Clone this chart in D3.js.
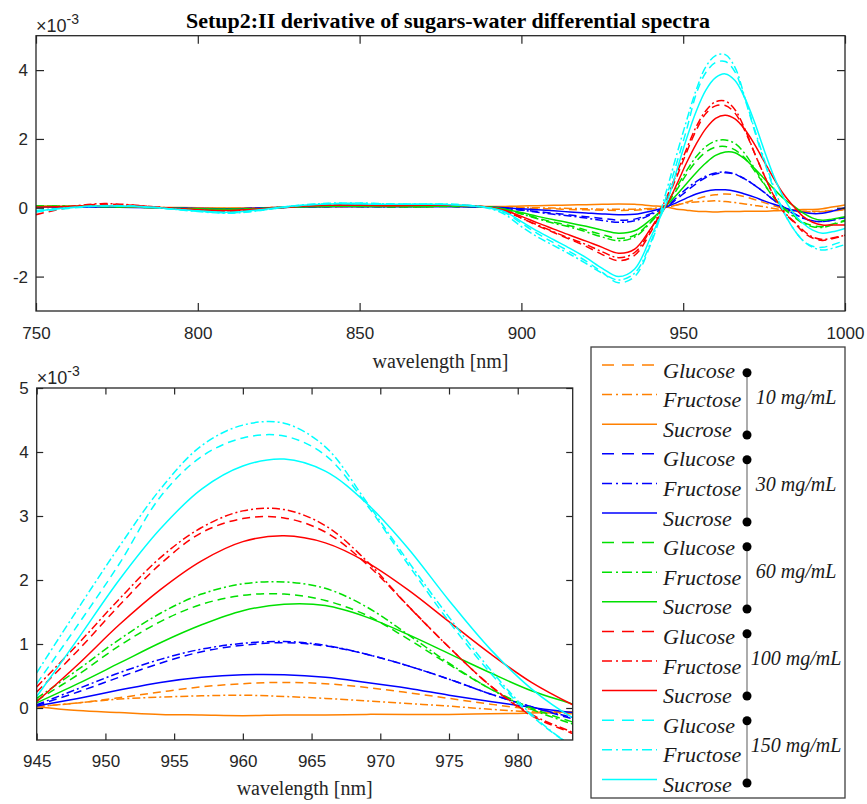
<!DOCTYPE html>
<html>
<head>
<meta charset="utf-8">
<script src="https://cdn.jsdelivr.net/npm/d3@7"></script>
<style>
  body { margin: 0; background: #fff; }
</style>
</head>
<body>
<script>
// wavelength grid [nm]
var wavelength = [750,760,770,780,790,800,810,820,830,840,850,860,870,880,
  890,895,900,905,910,915,920,925,930,935,940,
  945,948,951,954,957,960,963,966,969,972,975,978,981,984,987,990,993,996,1000];

// II derivative values, x 1e-3
var glucose10 = [0.05,0.04,0.03,0.02,0.0,-0.01,-0.02,0.0,0.02,0.03,0.04,0.04,0.04,0.04,
  0.03,0.02,0.0,-0.02,-0.03,-0.05,-0.06,-0.07,-0.08,-0.07,-0.04,
  0.02,0.08,0.16,0.25,0.33,0.38,0.4,0.38,0.32,0.24,0.15,0.06,-0.02,-0.08,-0.1,-0.1,-0.1,-0.08,-0.05];
var fructose10 = [0.04,0.04,0.03,0.02,0.0,-0.01,-0.02,0.0,0.02,0.03,0.03,0.04,0.04,0.04,
  0.03,0.02,0.01,0.0,-0.01,-0.02,-0.03,-0.04,-0.04,-0.04,-0.02,
  0.02,0.08,0.14,0.17,0.19,0.2,0.18,0.15,0.11,0.07,0.03,-0.02,-0.06,-0.09,-0.11,-0.12,-0.11,-0.09,-0.06];
var sucrose10 = [0.05,0.04,0.03,0.02,0.01,0.0,-0.01,0.0,0.02,0.04,0.05,0.05,0.05,0.04,
  0.04,0.04,0.05,0.06,0.07,0.08,0.09,0.1,0.11,0.1,0.06,
  0.02,-0.04,-0.07,-0.1,-0.11,-0.12,-0.11,-0.11,-0.1,-0.1,-0.1,-0.09,-0.08,-0.06,-0.05,-0.05,-0.03,0.02,0.08];

var glucose30 = [0.03,0.03,0.03,0.02,0.0,-0.03,-0.04,-0.01,0.02,0.04,0.04,0.03,0.04,0.04,
  0.01,-0.02,-0.06,-0.11,-0.16,-0.21,-0.26,-0.31,-0.36,-0.33,-0.17,
  0.04,0.25,0.48,0.7,0.88,0.98,1.02,0.97,0.84,0.66,0.45,0.22,0.02,-0.17,-0.3,-0.38,-0.4,-0.36,-0.28];
var fructose30 = [0.03,0.03,0.03,0.02,0.0,-0.03,-0.04,-0.01,0.02,0.04,0.04,0.03,0.04,0.04,
  0.01,-0.02,-0.07,-0.13,-0.19,-0.24,-0.3,-0.37,-0.42,-0.38,-0.2,
  0.05,0.3,0.55,0.76,0.92,1.01,1.04,0.98,0.84,0.66,0.45,0.22,0.02,-0.15,-0.3,-0.38,-0.4,-0.36,-0.28];
var sucrose30 = [0.02,0.02,0.02,0.01,0.0,-0.02,-0.03,-0.01,0.02,0.03,0.03,0.03,0.03,0.03,
  0.02,0.0,-0.03,-0.06,-0.09,-0.12,-0.15,-0.18,-0.2,-0.19,-0.1,
  0.03,0.15,0.28,0.4,0.48,0.52,0.52,0.48,0.4,0.31,0.2,0.1,0.01,-0.07,-0.13,-0.17,-0.16,-0.1,0.0];

var glucose60 = [0.05,0.04,0.04,0.02,-0.01,-0.04,-0.05,-0.02,0.03,0.05,0.05,0.03,0.03,0.04,
  0.02,-0.05,-0.17,-0.3,-0.42,-0.52,-0.65,-0.78,-0.89,-0.8,-0.4,
  0.12,0.52,0.97,1.35,1.62,1.76,1.78,1.68,1.45,1.08,0.68,0.3,0.0,-0.22,-0.42,-0.52,-0.55,-0.48,-0.36];
var fructose60 = [0.05,0.04,0.04,0.02,-0.01,-0.04,-0.05,-0.02,0.03,0.05,0.05,0.04,0.04,0.05,
  0.02,-0.05,-0.18,-0.32,-0.45,-0.56,-0.7,-0.85,-0.96,-0.85,-0.42,
  0.15,0.6,1.07,1.48,1.78,1.94,1.97,1.87,1.58,1.15,0.7,0.3,-0.02,-0.25,-0.45,-0.55,-0.57,-0.5,-0.38];
var sucrose60 = [0.04,0.04,0.04,0.02,-0.01,-0.03,-0.04,-0.02,0.02,0.04,0.04,0.04,0.04,0.05,
  0.02,-0.04,-0.14,-0.25,-0.35,-0.44,-0.54,-0.65,-0.74,-0.67,-0.34,
  0.08,0.38,0.7,1.02,1.3,1.52,1.62,1.6,1.42,1.15,0.85,0.55,0.27,0.06,-0.15,-0.3,-0.36,-0.33,-0.26];

var glucose100 = [-0.2,0.0,0.1,0.07,0.0,-0.07,-0.1,-0.04,0.04,0.09,0.09,0.07,0.08,0.08,
  0.01,-0.1,-0.3,-0.52,-0.72,-0.92,-1.12,-1.36,-1.54,-1.38,-0.7,
  0.25,0.9,1.6,2.25,2.74,2.96,2.97,2.75,2.25,1.6,0.95,0.35,-0.12,-0.4,-0.7,-0.88,-0.95,-0.9,-0.8];
var fructose100 = [-0.1,0.03,0.12,0.08,0.0,-0.06,-0.09,-0.03,0.04,0.08,0.08,0.07,0.08,0.07,
  0.01,-0.1,-0.3,-0.5,-0.7,-0.89,-1.07,-1.28,-1.45,-1.3,-0.62,
  0.33,1.0,1.7,2.35,2.82,3.08,3.1,2.85,2.3,1.6,0.95,0.35,-0.1,-0.38,-0.65,-0.85,-0.92,-0.88,-0.8];
var sucrose100 = [0.02,0.04,0.05,0.03,-0.01,-0.06,-0.08,-0.03,0.03,0.07,0.07,0.06,0.07,0.07,
  0.01,-0.08,-0.25,-0.44,-0.62,-0.8,-0.97,-1.15,-1.32,-1.2,-0.6,
  0.1,0.68,1.3,1.85,2.3,2.6,2.69,2.58,2.28,1.85,1.35,0.85,0.4,0.05,-0.25,-0.42,-0.5,-0.5,-0.5];

var glucose150 = [-0.12,-0.02,0.05,0.05,-0.02,-0.1,-0.15,-0.07,0.05,0.12,0.13,0.11,0.1,0.09,
  0.0,-0.15,-0.45,-0.75,-1.02,-1.28,-1.55,-1.88,-2.18,-2.0,-1.05,
  0.38,1.3,2.25,3.3,3.93,4.22,4.25,3.95,3.18,2.25,1.35,0.55,-0.12,-0.6,-0.95,-1.12,-1.15,-1.08,-0.95];
var fructose150 = [-0.08,0.0,0.06,0.05,-0.02,-0.11,-0.16,-0.07,0.06,0.13,0.14,0.11,0.11,0.1,
  -0.02,-0.2,-0.55,-0.85,-1.1,-1.35,-1.62,-1.9,-2.1,-1.9,-1.0,
  0.55,1.55,2.52,3.42,4.1,4.42,4.45,4.08,3.22,2.3,1.42,0.6,-0.1,-0.6,-0.95,-1.15,-1.23,-1.18,-1.07];
var sucrose150 = [-0.1,0.0,0.05,0.04,-0.02,-0.09,-0.13,-0.05,0.06,0.11,0.11,0.1,0.1,0.08,
  0.0,-0.12,-0.4,-0.68,-0.93,-1.18,-1.45,-1.76,-2.0,-1.78,-0.85,
  0.18,1.08,2.0,2.8,3.42,3.78,3.89,3.7,3.2,2.5,1.68,0.92,0.3,-0.15,-0.45,-0.65,-0.74,-0.7,-0.6];

var sugars = ["Glucose", "Fructose", "Sucrose"];
var concentrations = ["10 mg/mL", "30 mg/mL", "60 mg/mL", "100 mg/mL", "150 mg/mL"];
var groupColors = ["#ff8000", "#0000ff", "#00e000", "#ff0000", "#00ffff"];
var seriesValues = [glucose10, fructose10, sucrose10, glucose30, fructose30, sucrose30,
  glucose60, fructose60, sucrose60, glucose100, fructose100, sucrose100,
  glucose150, fructose150, sucrose150];

var topXTicks = [750, 800, 850, 900, 950, 1000];
var topYTicks = [-2, 0, 2, 4];
var botXTicks = [945, 950, 955, 960, 965, 970, 975, 980];
var botYTicks = [0, 1, 2, 3, 4, 5];

var dashPlot = {Glucose: "8,5", Fructose: "8,3,2,3", Sucrose: null};
var dashLegend = {Glucose: "12,8", Fructose: "10,4,2,4", Sucrose: null};

// series table
var series = seriesValues.map(function(vals, i) {
  return {
    sugar: sugars[i % 3],
    group: Math.floor(i / 3),
    color: groupColors[Math.floor(i / 3)],
    points: wavelength.map(function(w, j) { return {w: w, v: vals[j]}; })
  };
});

var W = 867, H = 804;
var svg = d3.select("body").append("svg")
  .attr("width", W).attr("height", H)
  .style("font-family", "'Liberation Sans', Arial, sans-serif");

var sansTick = "'Liberation Sans', Arial, sans-serif";
var serif = "'Liberation Serif', 'Times New Roman', serif";
var axisColor = "#262626";
var fmt = d3.format("d");

function drawPanel(opts) {
  var x = d3.scaleLinear().domain(opts.xDomain).range([opts.left, opts.right]);
  var y = d3.scaleLinear().domain(opts.yDomain).range([opts.bottom, opts.top]);
  var g = svg.append("g");

  g.append("clipPath").attr("id", opts.id)
    .append("rect")
    .attr("x", opts.left).attr("y", opts.top)
    .attr("width", opts.right - opts.left).attr("height", opts.bottom - opts.top);

  var line = d3.line()
    .x(function(d) { return x(d.w); })
    .y(function(d) { return y(d.v); })
    .curve(d3.curveCatmullRom.alpha(0.5));

  var lines = g.append("g").attr("clip-path", "url(#" + opts.id + ")");
  series.forEach(function(s) {
    var pts = s.points.filter(function(p) { return p.w >= opts.xDomain[0] - 3 && p.w <= opts.xDomain[1] + 3; });
    lines.append("path")
      .datum(pts)
      .attr("d", line)
      .attr("fill", "none")
      .attr("stroke", s.color)
      .attr("stroke-width", 1.5)
      .attr("stroke-dasharray", dashPlot[s.sugar]);
  });

  var tl = opts.tickLen;
  var xb = g.append("g").attr("transform", "translate(0," + opts.bottom + ")")
    .call(d3.axisBottom(x).tickValues(opts.xTicks).tickFormat(fmt)
      .tickSizeInner(-tl).tickSizeOuter(0).tickPadding(0));
  xb.selectAll("text").attr("dy", null).attr("y", opts.xLabelGap);
  var xt = g.append("g").attr("transform", "translate(0," + opts.top + ")")
    .call(d3.axisTop(x).tickValues(opts.xTicks).tickSizeInner(-tl).tickSizeOuter(0).tickFormat(""));
  var yl = g.append("g").attr("transform", "translate(" + opts.left + ",0)")
    .call(d3.axisLeft(y).tickValues(opts.yTicks).tickFormat(fmt)
      .tickSizeInner(-tl).tickSizeOuter(0).tickPadding(8));
  var yr = g.append("g").attr("transform", "translate(" + opts.right + ",0)")
    .call(d3.axisRight(y).tickValues(opts.yTicks).tickSizeInner(-tl).tickSizeOuter(0).tickFormat(""));

  [xb, xt, yl, yr].forEach(function(a) {
    a.select(".domain").remove();
    a.selectAll("line").attr("stroke", axisColor).attr("stroke-width", 1.2);
    a.selectAll("text").attr("fill", axisColor)
      .style("font-family", sansTick).style("font-size", "17px");
  });
  // plain hyphen for negative ticks, like the original
  yl.selectAll("text").text(function(d) { return String(d); });

  g.append("rect")
    .attr("x", opts.left).attr("y", opts.top)
    .attr("width", opts.right - opts.left).attr("height", opts.bottom - opts.top)
    .attr("fill", "none").attr("stroke", axisColor).attr("stroke-width", 1.3);

  // exponent
  var ex = g.append("text")
    .attr("x", opts.left).attr("y", opts.top - 4)
    .attr("fill", axisColor)
    .style("font-family", sansTick).style("font-size", "18px");
  ex.append("tspan").text("\u00d710");
  ex.append("tspan").attr("dy", -8).style("font-size", "14px").text("-3");

  g.append("text")
    .attr("x", (opts.left + opts.right) / 2).attr("y", opts.xTitleY)
    .attr("text-anchor", "middle")
    .attr("fill", axisColor)
    .style("font-family", serif).style("font-size", "20px")
    .text("wavelength [nm]");
}

drawPanel({
  id: "clipTop", left: 36, right: 845, top: 35.7, bottom: 311,
  xDomain: [750, 1000], yDomain: [-3, 5], xTicks: topXTicks, yTicks: topYTicks,
  tickLen: 8, xLabelGap: 28, xTitleY: 368
});

drawPanel({
  id: "clipBot", left: 36.7, right: 572.7, top: 388, bottom: 740,
  xDomain: [945, 984], yDomain: [-0.5, 5], xTicks: botXTicks, yTicks: botYTicks,
  tickLen: 6.5, xLabelGap: 27, xTitleY: 795
});

// title
svg.append("text")
  .attr("x", 448).attr("y", 28)
  .attr("text-anchor", "middle")
  .attr("fill", "#000")
  .style("font-family", serif).style("font-size", "22px").style("font-weight", "bold")
  .text("Setup2:II derivative of sugars-water differential spectra");

// legend
var leg = svg.append("g");
leg.append("rect")
  .attr("x", 591).attr("y", 347).attr("width", 254).attr("height", 451)
  .attr("fill", "#fff").attr("stroke", "#404040").attr("stroke-width", 1.3);

series.forEach(function(s, i) {
  var ly = 365 + i * 29.6;
  leg.append("line")
    .attr("x1", 602).attr("x2", 657).attr("y1", ly).attr("y2", ly)
    .attr("stroke", s.color).attr("stroke-width", 1.5)
    .attr("stroke-dasharray", dashLegend[s.sugar]);
  leg.append("text")
    .attr("x", 663).attr("y", ly + 12.5)
    .attr("fill", "#1a1a1a")
    .style("font-family", serif).style("font-style", "italic").style("font-size", "22px")
    .text(s.sugar);
});

concentrations.forEach(function(c, gi) {
  var y1 = 372.7 + gi * 87, y2 = y1 + 62.3;
  leg.append("line")
    .attr("x1", 747).attr("x2", 747).attr("y1", y1).attr("y2", y2)
    .attr("stroke", "#808080").attr("stroke-width", 1.3);
  leg.selectAll(null).data([y1, y2]).enter().append("circle")
    .attr("cx", 747).attr("cy", function(d) { return d; }).attr("r", 4.5)
    .attr("fill", "#000");
  leg.append("text")
    .attr("x", 796).attr("y", (y1 + y2) / 2)
    .attr("text-anchor", "middle")
    .attr("fill", "#1a1a1a")
    .style("font-family", serif).style("font-style", "italic").style("font-size", "20px")
    .text(c);
});
</script>
</body>
</html>
